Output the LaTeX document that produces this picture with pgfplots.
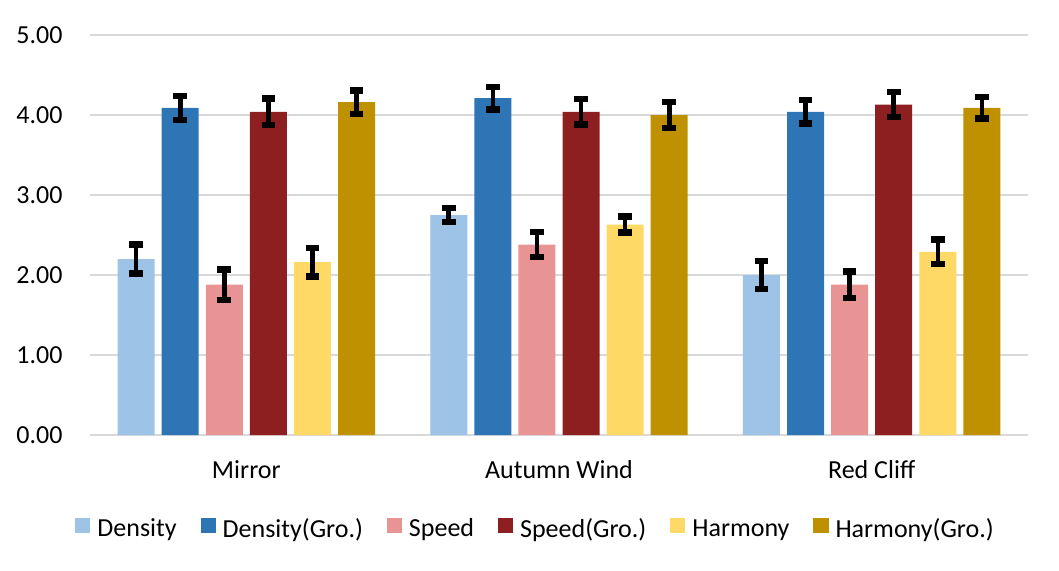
\documentclass[border=0pt]{standalone}
\usepackage{fontspec}
\setmainfont{Carlito}
\usepackage{pgfplots}
\pgfplotsset{compat=1.18}
\usepackage{pgfplotstable}
\definecolor{cDen}{HTML}{9DC3E6}
\definecolor{cDenG}{HTML}{2E75B6}
\definecolor{cSpd}{HTML}{E89494}
\definecolor{cSpdG}{HTML}{8E1F20}
\definecolor{cHar}{HTML}{FFD966}
\definecolor{cHarG}{HTML}{BF9000}
\definecolor{gridc}{HTML}{D9D9D9}

% x = group position (0 Mirror, 1 Autumn Wind, 2 Red Cliff) + bar offset
\pgfplotstableread{
x y e
-0.3525 2.20 0.18
0.6475 2.75 0.085
1.6475 2.00 0.175
}\tDen
\pgfplotstableread{
x y e
-0.2115 4.09 0.15
0.7885 4.21 0.14
1.7885 4.04 0.145
}\tDenG
\pgfplotstableread{
x y e
-0.0705 1.88 0.19
0.9295 2.38 0.155
1.9295 1.88 0.165
}\tSpd
\pgfplotstableread{
x y e
0.0705 4.04 0.165
1.0705 4.04 0.16
2.0705 4.13 0.155
}\tSpdG
\pgfplotstableread{
x y e
0.2115 2.16 0.18
1.2115 2.63 0.10
2.2115 2.29 0.155
}\tHar
\pgfplotstableread{
x y e
0.3525 4.16 0.145
1.3525 4.00 0.16
2.3525 4.09 0.135
}\tHarG

\begin{document}
\begin{tikzpicture}
\begin{axis}[
  scale only axis,
  width=469pt, height=200pt,
  xmin=-0.5, xmax=2.5,
  ymin=0, ymax=5,
  xtick={0,1,2},
  xticklabels={Mirror,Autumn Wind,Red Cliff},
  ytick={0,1,2,3,4,5},
  /pgf/number format/assume math mode=true,
  /pgf/number format/fixed,
  /pgf/number format/fixed zerofill,
  /pgf/number format/precision=2,
  tick label style={font=\fontsize{13}{15}\selectfont, inner sep=0pt},
  xticklabel style={anchor=base, yshift=-21.5pt},
  yticklabel style={anchor=east, xshift=-13.5pt},
  major tick length=0pt,
  axis line style={draw=none},
  ymajorgrids,
  grid style={draw=gridc, line width=1pt},
  legend columns=6,
  legend style={draw=none, fill=none, font=\fontsize{13}{15}\selectfont,
    at={(0.474,-0.236)}, anchor=center,
    nodes={inner sep=0pt},
    /tikz/every odd column/.style={column sep=3.5pt},
    /tikz/every even column/.style={column sep=12pt}},
  legend image code/.code={\fill[#1, draw=none] (0pt,-2pt) rectangle (7.5pt,5.5pt);},
  every axis plot/.append style={
    ybar, bar width=0.1183, bar shift=0pt, draw=none,
    /pgfplots/error bars/y dir=both,
    /pgfplots/error bars/y explicit,
    /pgfplots/error bars/error bar style={line width=2.3pt, black},
    /pgfplots/error bars/error mark options={rotate=90, mark size=3.4pt, line width=3.2pt, black}
  },
]
\addplot[fill=cDen] table[x=x, y=y, y error=e] {\tDen};
\addplot[fill=cDenG] table[x=x, y=y, y error=e] {\tDenG};
\addplot[fill=cSpd] table[x=x, y=y, y error=e] {\tSpd};
\addplot[fill=cSpdG] table[x=x, y=y, y error=e] {\tSpdG};
\addplot[fill=cHar] table[x=x, y=y, y error=e] {\tHar};
\addplot[fill=cHarG] table[x=x, y=y, y error=e] {\tHarG};
\legend{Density, Density(Gro.), Speed, Speed(Gro.), Harmony, Harmony(Gro.)}
\end{axis}
\pgfresetboundingbox
\path[use as bounding box] (-45pt,-67.5pt) rectangle (484.5pt,217.5pt);
\end{tikzpicture}
\end{document}
